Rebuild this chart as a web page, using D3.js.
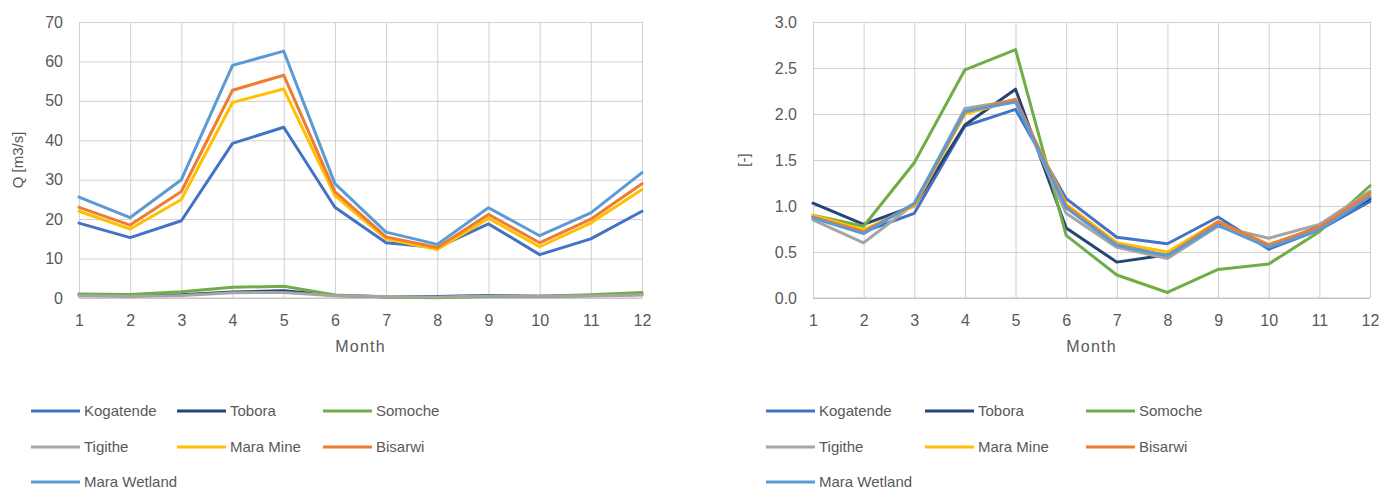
<!DOCTYPE html>
<html>
<head>
<meta charset="utf-8">
<script src="https://cdn.jsdelivr.net/npm/d3@7"></script>
<style>
  html, body { margin: 0; padding: 0; background: #fff; }
  svg { display: block; }
  text { font-family: "Liberation Sans", Arial, sans-serif; fill: #595959; }
</style>
</head>
<body>
<svg id="chart" width="1383" height="490"></svg>
<script>
// Months on the horizontal axis
const months = [1, 2, 3, 4, 5, 6, 7, 8, 9, 10, 11, 12];

// Station names and colours (legend order = draw order)
const stations = ["Kogatende", "Tobora", "Somoche", "Tigithe", "Mara Mine", "Bisarwi", "Mara Wetland"];
const stationColors = ["#4472C4", "#264478", "#70AD47", "#A5A5A5", "#FFC000", "#ED7D31", "#5B9BD5"];

// Mean monthly discharge Q [m3/s]
const qKogatende   = [19.0, 15.3, 19.6, 39.2, 43.3, 23.0, 14.0, 12.8, 18.8, 11.0, 15.0, 22.0];
const qTobora      = [0.82, 0.64, 0.80, 1.52, 1.82, 0.62, 0.32, 0.38, 0.66, 0.44, 0.64, 0.88];
const qSomoche     = [0.99, 0.86, 1.60, 2.72, 2.96, 0.77, 0.28, 0.08, 0.35, 0.42, 0.83, 1.38];
const qTigithe     = [0.55, 0.40, 0.65, 1.35, 1.40, 0.60, 0.36, 0.28, 0.52, 0.42, 0.52, 0.75];
const qMaraMine    = [22.0, 17.5, 25.0, 49.6, 53.0, 26.0, 15.0, 12.3, 20.2, 13.0, 19.0, 27.5];
const qBisarwi     = [23.0, 18.5, 27.0, 52.7, 56.5, 27.0, 15.5, 12.8, 21.2, 14.0, 20.0, 29.0];
const qMaraWetland = [25.6, 20.4, 30.0, 59.0, 62.6, 29.0, 16.7, 13.6, 22.9, 15.8, 21.6, 31.8];

// Normalised discharge (monthly Q / mean annual Q) [-]
const rKogatende   = [0.88, 0.72, 0.92, 1.87, 2.05, 1.08, 0.66, 0.59, 0.88, 0.53, 0.74, 1.05];
const rTobora      = [1.03, 0.80, 1.00, 1.88, 2.27, 0.76, 0.39, 0.47, 0.82, 0.55, 0.78, 1.08];
const rSomoche     = [0.90, 0.78, 1.47, 2.48, 2.70, 0.68, 0.25, 0.06, 0.31, 0.37, 0.72, 1.22];
const rTigithe     = [0.85, 0.60, 1.02, 2.06, 2.15, 0.92, 0.55, 0.43, 0.78, 0.65, 0.80, 1.16];
const rMaraMine    = [0.90, 0.74, 1.00, 2.00, 2.15, 1.02, 0.60, 0.50, 0.83, 0.56, 0.76, 1.12];
const rBisarwi     = [0.88, 0.72, 1.02, 2.02, 2.16, 1.00, 0.58, 0.46, 0.83, 0.58, 0.77, 1.14];
const rMaraWetland = [0.87, 0.70, 1.03, 2.03, 2.13, 0.98, 0.57, 0.46, 0.79, 0.55, 0.74, 1.10];

// Axis ticks
const qTicks = [0, 10, 20, 30, 40, 50, 60, 70];
const rTicks = [0, 0.5, 1.0, 1.5, 2.0, 2.5, 3.0];

const qSeries = [qKogatende, qTobora, qSomoche, qTigithe, qMaraMine, qBisarwi, qMaraWetland];
const rSeries = [rKogatende, rTobora, rSomoche, rTigithe, rMaraMine, rBisarwi, rMaraWetland];

const svg = d3.select("#chart");

function drawPanel(cfg) {
  const x = d3.scaleLinear().domain([1, 12]).range([cfg.left, cfg.right]);
  const y = d3.scaleLinear().domain([0, cfg.yMax]).range([cfg.bottom, cfg.top]);
  const g = svg.append("g");

  // horizontal gridlines + y tick labels
  const yAxis = g.append("g")
    .attr("transform", `translate(${cfg.left},0)`)
    .call(d3.axisLeft(y).tickValues(cfg.ticks).tickFormat(cfg.fmt)
      .tickSize(-(cfg.right - cfg.left)).tickPadding(16));
  yAxis.select(".domain").remove();
  yAxis.selectAll(".tick line").attr("stroke", "#d0d0d0").attr("stroke-width", 1);
  yAxis.selectAll(".tick text").attr("font-size", 16).attr("fill", "#595959")
    .attr("font-family", "Liberation Sans, Arial, sans-serif");

  // vertical gridlines + month labels
  const xAxis = g.append("g")
    .attr("transform", `translate(0,${cfg.bottom})`)
    .call(d3.axisBottom(x).tickValues(months).tickFormat(d3.format("d"))
      .tickSize(-(cfg.bottom - cfg.top)).tickPadding(17));
  xAxis.select(".domain").remove();
  xAxis.selectAll(".tick line").attr("stroke", "#d0d0d0").attr("stroke-width", 1);
  xAxis.selectAll(".tick text").attr("font-size", 16).attr("fill", "#595959")
    .attr("font-family", "Liberation Sans, Arial, sans-serif");

  // bottom axis line
  g.append("line")
    .attr("x1", cfg.left).attr("x2", cfg.right)
    .attr("y1", cfg.bottom).attr("y2", cfg.bottom)
    .attr("stroke", "#bfbfbf").attr("stroke-width", 1);

  // axis titles
  g.append("text")
    .attr("x", (cfg.left + cfg.right) / 2).attr("y", 352)
    .attr("text-anchor", "middle").attr("font-size", 16)
    .attr("letter-spacing", 1.2)
    .text("Month");
  g.append("text")
    .attr("transform", `translate(${cfg.titleX},${cfg.titleY}) rotate(-90)`)
    .attr("text-anchor", "middle").attr("font-size", 15)
    .text(cfg.yTitle);

  // series lines
  const line = d3.line().x((d, i) => x(months[i])).y(d => y(d));
  cfg.series.forEach((vals, i) => {
    g.append("path")
      .datum(vals)
      .attr("d", line)
      .attr("fill", "none")
      .attr("stroke", stationColors[i])
      .attr("stroke-width", 3)
      .attr("stroke-linejoin", "round")
      .attr("stroke-linecap", "round");
  });

  // legend: three columns, three rows
  const rowsY = [411, 447, 482];
  stations.forEach((name, i) => {
    const col = i % 3, row = Math.floor(i / 3);
    const lx = cfg.legendX[col];
    const ly = rowsY[row];
    g.append("line")
      .attr("x1", lx).attr("x2", lx + 49)
      .attr("y1", ly).attr("y2", ly)
      .attr("stroke", stationColors[i]).attr("stroke-width", 3);
    g.append("text")
      .attr("x", lx + 53).attr("y", ly)
      .attr("dy", "0.36em").attr("font-size", 15)
      .text(name);
  });
}

drawPanel({
  left: 79, right: 642, top: 22, bottom: 298,
  yMax: 70, ticks: qTicks, fmt: d3.format("d"),
  yTitle: "Q [m3/s]", titleX: 23, titleY: 160,
  series: qSeries,
  legendX: [31, 177, 323]
});

drawPanel({
  left: 813, right: 1370, top: 22, bottom: 298,
  yMax: 3, ticks: rTicks, fmt: d3.format(".1f"),
  yTitle: "[-]", titleX: 749, titleY: 160,
  series: rSeries,
  legendX: [766, 925, 1086]
});
</script>
</body>
</html>
